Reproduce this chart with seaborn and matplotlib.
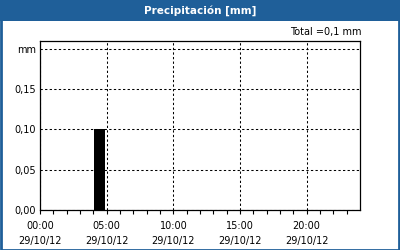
import matplotlib
matplotlib.use("Agg")
import matplotlib.pyplot as plt
import seaborn as sns
import numpy as np
import pandas as pd

# Data
hours = list(range(24))
precip = [0, 0, 0, 0, 0.10, 0, 0, 0, 0, 0, 0, 0,
          0, 0, 0, 0, 0, 0, 0, 0, 0, 0, 0, 0]
xtick_hours = [0, 5, 10, 15, 20]
xtick_labels = ["00:00\n29/10/12", "05:00\n29/10/12", "10:00\n29/10/12",
                "15:00\n29/10/12", "20:00\n29/10/12"]
ytick_vals = [0.00, 0.05, 0.10, 0.15, 0.20]
ytick_labels = ["0,00", "0,05", "0,10", "0,15", "mm"]
title = "Precipitación [mm]"
total_text = "Total =0,1 mm"

BLUE = "#1f5f99"

sns.set_style("white")
plt.rcParams["font.family"] = ["DejaVu Sans"]
plt.rcParams["text.color"] = "black"
plt.rcParams["xtick.color"] = "black"
plt.rcParams["ytick.color"] = "black"

W, H = 400, 250
fig = plt.figure(figsize=(W / 100, H / 100), dpi=100)
fig.patch.set_facecolor("white")

# title bar
fig.add_artist(plt.Rectangle((0, 1 - 21 / H), 1, 21 / H, transform=fig.transFigure,
                             facecolor=BLUE, edgecolor="none", zorder=0))
# outer border
fig.add_artist(plt.Rectangle((0.5 / W, 0.5 / H), 1 - 1.5 / W, 1 - 1.5 / H, transform=fig.transFigure,
                             facecolor="none", edgecolor=BLUE, linewidth=2.0, zorder=5))
fig.text(0.5, 1 - 10.5 / H, title, color="white", ha="center", va="center",
         fontsize=7.5, fontweight="bold")
fig.text(362 / W, 1 - 32 / H, total_text, color="black", ha="right", va="center", fontsize=7)

ax = fig.add_axes([40 / W, 40 / H, 320 / W, 169 / H])

bar_w = 0.83
df = pd.DataFrame({"x": [h + 0.05 + bar_w / 2 for h in hours], "y": precip})
sns.barplot(data=df, x="x", y="y", native_scale=True, width=bar_w, color="black",
            linewidth=0, saturation=1, ax=ax)

ax.set_xlim(0, 24)
ax.set_ylim(0, 0.2093)
ax.set_xlabel("")
ax.set_ylabel("")

ax.set_xticks(xtick_hours)
ax.set_xticklabels(xtick_labels, fontsize=7, linespacing=1.55, color="black")
ax.set_xticks(hours, minor=True)
ax.set_yticks(ytick_vals)
ax.set_yticklabels(ytick_labels, fontsize=7, color="black")

ax.tick_params(axis="x", which="both", direction="out", length=3, width=0.8,
               color="black", pad=5, bottom=True)
ax.tick_params(axis="y", which="both", length=0, pad=3)

ax.grid(True, which="major", color="black", linestyle=(0, (2.2, 2.2)), linewidth=0.75)
ax.set_axisbelow(False)
for s in ax.spines.values():
    s.set_color("black")
    s.set_linewidth(0.9)
    s.set_visible(True)

fig.savefig("out.png", dpi=100)
